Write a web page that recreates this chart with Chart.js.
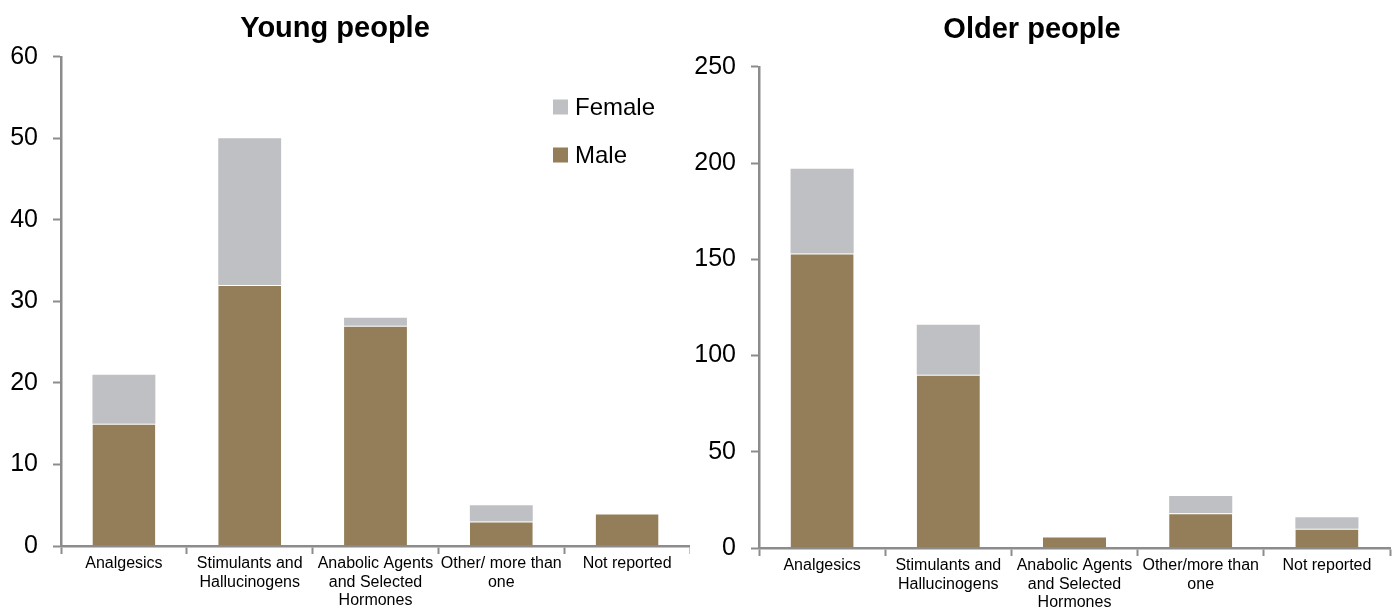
<!DOCTYPE html>
<html>
<head>
<meta charset="utf-8">
<title>Substance groups by sex and age</title>
<script src="https://cdn.jsdelivr.net/npm/chart.js@4/dist/chart.umd.min.js"></script>
<style>
    html, body { margin: 0; padding: 0; background: #fff; }
    .row { display: flex; width: 1397px; height: 608px; }
    .panel { position: relative; height: 608px; }
    #panelYoung { width: 690px; }
    #panelOlder { width: 707px; }
</style>
</head>
<body>
<div class="row">
    <div class="panel" id="panelYoung"><canvas id="chartYoung"></canvas></div>
    <div class="panel" id="panelOlder"><canvas id="chartOlder"></canvas></div>
</div>
<script>
// Categories (x axis)
const categoriesYoung = ['Analgesics', ['Stimulants and', 'Hallucinogens'], ['Anabolic Agents', 'and Selected', 'Hormones'], ['Other/ more than', 'one'], 'Not reported'];
const categoriesOlder = ['Analgesics', ['Stimulants and', 'Hallucinogens'], ['Anabolic Agents', 'and Selected', 'Hormones'], ['Other/more than', 'one'], 'Not reported'];

// Counts per category
const youngMale = [15, 32, 27, 3, 4];
const youngFemale = [6, 18, 1, 2, 0];
const olderMale = [153, 90, 6, 18, 10];
const olderFemale = [44, 26, 0, 9, 6];

// Y axis ranges
const youngTicks = [0, 10, 20, 30, 40, 50, 60];
const olderTicks = [0, 50, 100, 150, 200, 250];

const MALE_COLOR = '#937E59';
const FEMALE_COLOR = '#BFC0C3';
const AXIS_COLOR = '#8C8C8C';
const FONT = "'Liberation Sans', Arial, sans-serif";

Chart.defaults.font.family = FONT;
Chart.defaults.color = '#000';
Chart.defaults.animation = false;

// Shift the title sideways a little after layout
const titleShift = {
    id: 'titleShift',
    afterLayout(chart, args, opts) {
        const t = chart.titleBlock;
        if (t && opts.dx) {
            t.left += opts.dx;
            t.right += opts.dx;
        }
    }
};

// Legend drawn inside the plot area (Female above Male)
const insideLegend = {
    id: 'insideLegend',
    afterDraw(chart, args, opts) {
        if (!opts.show) return;
        const ctx = chart.ctx;
        const items = chart.data.datasets.slice().reverse();
        ctx.save();
        ctx.font = '24px ' + FONT;
        ctx.textBaseline = 'middle';
        items.forEach((ds, i) => {
            const y = opts.y + i * opts.gap;
            ctx.fillStyle = ds.backgroundColor;
            ctx.fillRect(opts.x, y - 7.5, 15, 15);
            ctx.fillStyle = '#000';
            ctx.fillText(ds.label, opts.x + 22, y + 1);
        });
        ctx.restore();
    }
};

function buildChart(canvasId, cfg) {
    const el = document.getElementById(canvasId);
    return new Chart(el, {
        type: 'bar',
        data: {
            labels: cfg.labels,
            datasets: [
                {
                    label: 'Male',
                    data: cfg.male,
                    backgroundColor: MALE_COLOR,
                    borderColor: 'rgba(255,255,255,0.7)',
                    borderWidth: { top: 1, left: 0, right: 0, bottom: 0 },
                    borderSkipped: false
                },
                {
                    label: 'Female',
                    data: cfg.female,
                    backgroundColor: FEMALE_COLOR,
                    borderWidth: 0
                }
            ]
        },
        plugins: [titleShift, insideLegend],
        options: {
            responsive: true,
            maintainAspectRatio: false,
            layout: { padding: { left: 0, right: cfg.padRight, top: 0, bottom: 0 } },
            datasets: {
                bar: { categoryPercentage: 1.0, barPercentage: 0.5 }
            },
            plugins: {
                legend: { display: false },
                tooltip: { enabled: false },
                title: {
                    display: true,
                    text: cfg.title,
                    color: '#000',
                    font: { size: 29, weight: 'bold', family: FONT, lineHeight: 1.2 },
                    padding: cfg.titlePad
                },
                titleShift: { dx: cfg.titleDx },
                insideLegend: cfg.legend
            },
            scales: {
                x: {
                    stacked: true,
                    border: { color: AXIS_COLOR, width: 2.5 },
                    grid: {
                        offset: true,
                        drawOnChartArea: false,
                        drawTicks: true,
                        tickLength: 8,
                        tickWidth: 2,
                        tickColor: AXIS_COLOR
                    },
                    ticks: {
                        font: { size: 16, lineHeight: 1.13 },
                        color: '#000',
                        maxRotation: 0,
                        autoSkip: false,
                        padding: 1
                    },
                    afterFit(scale) { scale.height = cfg.xHeight; }
                },
                y: {
                    stacked: true,
                    min: cfg.ticks[0],
                    max: cfg.ticks[cfg.ticks.length - 1],
                    afterBuildTicks(scale) {
                        scale.ticks = cfg.ticks.map(v => ({ value: v }));
                    },
                    border: { color: AXIS_COLOR, width: 2.5 },
                    grid: {
                        drawOnChartArea: false,
                        drawTicks: true,
                        tickLength: 8,
                        tickWidth: 2,
                        tickColor: AXIS_COLOR
                    },
                    ticks: {
                        font: { size: 25 },
                        color: '#000',
                        padding: 15
                    },
                    afterFit(scale) { scale.width = cfg.yWidth; }
                }
            }
        }
    });
}

buildChart('chartYoung', {
    title: 'Young people',
    labels: categoriesYoung,
    male: youngMale,
    female: youngFemale,
    ticks: youngTicks,
    padRight: 0,
    yWidth: 61,
    xHeight: 62,
    titlePad: { top: 12, bottom: 10 },
    titleDx: -10,
    legend: { show: true, x: 553, y: 107, gap: 48 }
});

buildChart('chartOlder', {
    title: 'Older people',
    labels: categoriesOlder,
    male: olderMale,
    female: olderFemale,
    ticks: olderTicks,
    padRight: 7,
    yWidth: 69,
    xHeight: 60,
    titlePad: { top: 13, bottom: 19 },
    titleDx: -8,
    legend: { show: false }
});
</script>
</body>
</html>
